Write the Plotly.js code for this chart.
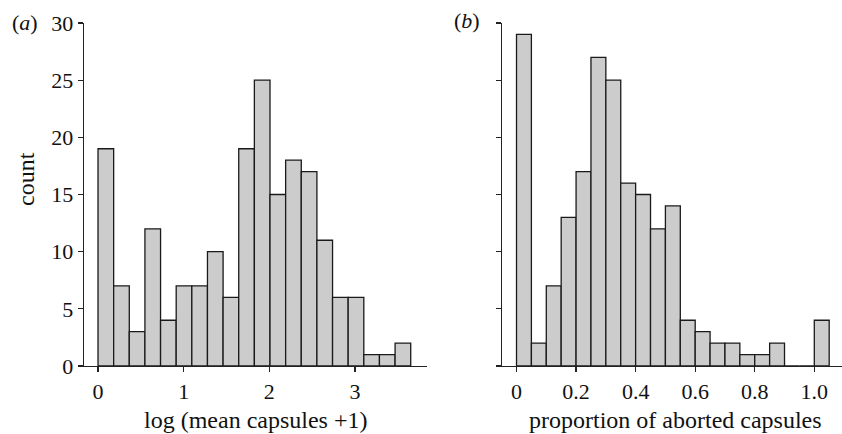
<!DOCTYPE html>
<html>
<head>
<meta charset="utf-8">
<script src="https://cdn.plot.ly/plotly-3.0.1.min.js"></script>
<style>html,body{margin:0;padding:0;background:#fff;}#chart{width:842px;height:434px;}</style>
</head>
<body>
<div id="chart"></div>
<script>
// Panel (a): log (mean capsules + 1)
const countsA = [19, 7, 3, 12, 4, 7, 7, 10, 6, 19, 25, 15, 18, 17, 11, 6, 6, 1, 1, 2];
const binStartA = 0;
const binWidthA = 0.1825;
const ticksA = [0, 1, 2, 3];
const tickTextA = ['0', '1', '2', '3'];

// Panel (b): proportion of aborted capsules
const countsB = [29, 2, 7, 13, 17, 27, 25, 16, 15, 12, 14, 4, 3, 2, 2, 1, 1, 2, 0, 0, 4];
const binStartB = 0;
const binWidthB = 0.05;
const ticksB = [0, 0.2, 0.4, 0.6, 0.8, 1.0];
const tickTextB = ['0', '0.2', '0.4', '0.6', '0.8', '1.0'];

const yTicks = [0, 5, 10, 15, 20, 25, 30];

const titleA = 'log (mean capsules +1)';
const titleB = 'proportion of aborted capsules';
const titleY = 'count';

const xA = countsA.map((_, i) => binStartA + binWidthA * (i + 0.5));
const xB = countsB.map((_, i) => binStartB + binWidthB * (i + 0.5));

const barStyle = {color: '#cccccc', line: {color: '#1a1a1a', width: 1.3}};
const fam = '"Times New Roman", "Liberation Serif", Times, serif';
const font = {family: fam, size: 22, color: '#111'};
const titleFont = {family: fam, size: 24, color: '#111'};

const traces = [
  {type: 'bar', x: xA, y: countsA, width: binWidthA, marker: barStyle, xaxis: 'x', yaxis: 'y', hoverinfo: 'x+y'},
  {type: 'bar', x: xB, y: countsB, width: binWidthB, marker: barStyle, xaxis: 'x2', yaxis: 'y2', hoverinfo: 'x+y'}
];

const axisCommon = {
  showgrid: false, zeroline: false, showline: true, linecolor: '#222', linewidth: 1.3,
  ticks: 'outside', ticklen: 5, tickwidth: 1.3, tickcolor: '#222', tickfont: font
};

const W = 842, H = 434;
const py = p => (H - p) / H;
const layout = {
  width: W, height: H,
  margin: {l: 0, r: 0, t: 0, b: 0},
  paper_bgcolor: '#fff', plot_bgcolor: '#fff',
  showlegend: false, bargap: 0,
  font: font,
  xaxis: Object.assign({}, axisCommon, {
    domain: [79 / W, 427 / W], range: [-0.222, 3.84], anchor: 'y',
    tickvals: ticksA, ticktext: tickTextA
  }),
  yaxis: Object.assign({}, axisCommon, {
    domain: [py(366), py(23)], range: [0, 30], anchor: 'free', position: 82.7 / W,
    tickvals: yTicks, ticktext: yTicks.map(String)
  }),
  xaxis2: Object.assign({}, axisCommon, {
    domain: [497 / W, 1], range: [-0.0655, 1.093], anchor: 'y2',
    tickvals: ticksB, ticktext: tickTextB
  }),
  yaxis2: Object.assign({}, axisCommon, {
    domain: [py(366), py(23)], range: [0, 30], anchor: 'free', position: 501 / W,
    tickvals: yTicks, showticklabels: false
  }),
  annotations: [
    {text: '(<i>a</i>)', xref: 'paper', yref: 'paper', x: 10 / W, y: py(22),
     xanchor: 'left', yanchor: 'middle', showarrow: false, font: font},
    {text: '(<i>b</i>)', xref: 'paper', yref: 'paper', x: 452 / W, y: py(20),
     xanchor: 'left', yanchor: 'middle', showarrow: false, font: font},
    {text: titleA, xref: 'paper', yref: 'paper', x: 255.5 / W, y: py(420),
     xanchor: 'center', yanchor: 'middle', showarrow: false, font: titleFont},
    {text: titleB, xref: 'paper', yref: 'paper', x: 675 / W, y: py(420),
     xanchor: 'center', yanchor: 'middle', showarrow: false, font: titleFont},
    {text: titleY, xref: 'paper', yref: 'paper', x: 26 / W, y: py(179), textangle: -90,
     xanchor: 'center', yanchor: 'middle', showarrow: false, font: titleFont}
  ]
};

Plotly.newPlot('chart', traces, layout, {displayModeBar: false, staticPlot: true});
</script>
</body>
</html>
